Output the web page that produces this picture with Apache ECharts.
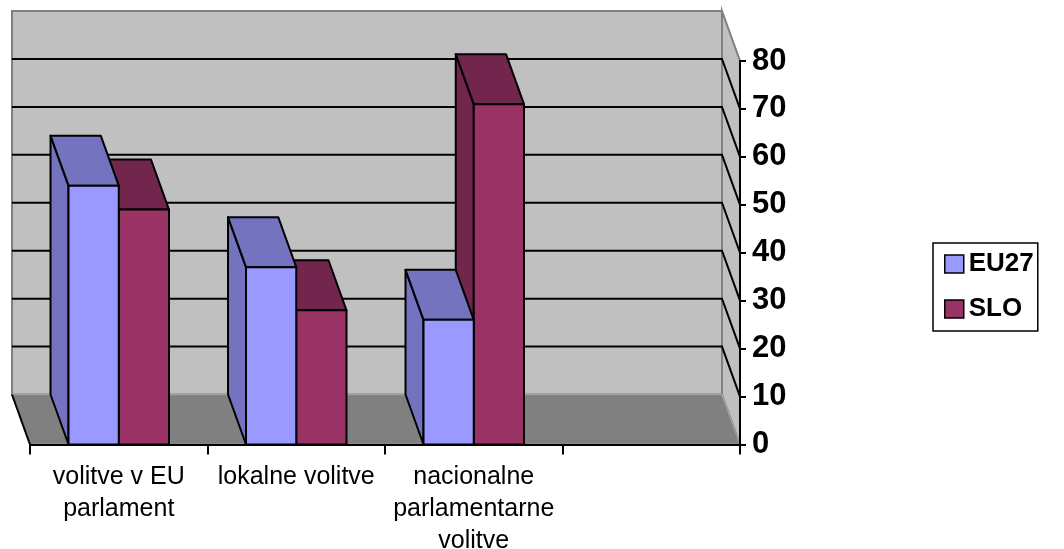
<!DOCTYPE html>
<html>
<head>
<meta charset="utf-8">
<script src="https://cdn.jsdelivr.net/npm/echarts@6/dist/echarts.min.js"></script>
<style>
  html, body { margin: 0; background: #ffffff; }
  #chart { width: 1064px; height: 549px; }
</style>
</head>
<body>
<div id="chart"></div>
<script>
// data
const categories = ['volitve v EU\nparlament', 'lokalne volitve', 'nacionalne\nparlamentarne\nvolitve', ''];
const eu27Values = [54, 37, 26];
const sloValues = [49, 28, 71];
const wallTicks = [10, 20, 30, 40, 50, 60, 70];

// 3d look
const DX = -18;
const DY = -50;
const BAR_RATIO = 0.283;
const FONT = '"Liberation Sans", Arial, sans-serif';

const chart = echarts.init(document.getElementById('chart'));

function drawFrame(params, api) {
  const cs = params.coordSys;
  const y0 = api.coord([0, 0])[1];
  const yTop = api.coord([0, 80])[1];
  const left = cs.x;
  const right = cs.x + cs.width;
  const children = [];
  // back wall
  children.push({
    type: 'rect',
    shape: { x: left + DX, y: yTop + DY, width: right - left, height: y0 - yTop },
    style: { fill: '#c0c0c0', stroke: '#808080', lineWidth: 2 }
  });
  // right wall
  children.push({
    type: 'polygon',
    shape: { points: [[right + DX, yTop + DY], [right, yTop], [right, y0], [right + DX, y0 + DY]] },
    style: { fill: '#c0c0c0', stroke: '#808080', lineWidth: 2 }
  });
  // floor
  children.push({
    type: 'polygon',
    shape: { points: [[left, y0], [right, y0], [right + DX, y0 + DY], [left + DX, y0 + DY]] },
    style: { fill: '#808080', stroke: '#a0a0a0', lineWidth: 1.5 }
  });
  children.push({
    type: 'line',
    shape: { x1: left + DX, y1: y0 + DY, x2: left, y2: y0 },
    style: { stroke: '#000', lineWidth: 2 }
  });
  // grid lines on back and right wall
  wallTicks.forEach(function (v) {
    const y = api.coord([0, v])[1];
    children.push({
      type: 'polyline',
      shape: { points: [[left + DX, y + DY], [right + DX, y + DY], [right, y]] },
      style: { stroke: '#000', lineWidth: 2, fill: null }
    });
  });
  return { type: 'group', children: children };
}

function makeBar(front, dark, shift) {
  return function (params, api) {
    const c = api.coord([api.value(0), api.value(1)]);
    const base = api.coord([api.value(0), 0]);
    const bw = api.size([1, 0])[0] * BAR_RATIO;
    const x0 = c[0] + shift * bw;
    const x1 = x0 + bw;
    const top = c[1];
    const bottom = base[1];
    const line = { stroke: '#000', lineWidth: 2, lineJoin: 'round' };
    return {
      type: 'group',
      children: [
        {
          type: 'polygon',
          shape: { points: [[x0, top], [x0 + DX, top + DY], [x0 + DX, bottom + DY], [x0, bottom]] },
          style: Object.assign({ fill: dark }, line)
        },
        {
          type: 'polygon',
          shape: { points: [[x0, top], [x0 + DX, top + DY], [x1 + DX, top + DY], [x1, top]] },
          style: Object.assign({ fill: dark }, line)
        },
        {
          type: 'rect',
          shape: { x: x0, y: top, width: bw, height: bottom - top },
          style: Object.assign({ fill: front }, line)
        }
      ]
    };
  };
}

const option = {
  animation: false,
  textStyle: { fontFamily: FONT },
  grid: { left: 30, right: 324, top: 61, bottom: 104.5, outerBoundsMode: 'none', containLabel: false },
  legend: {
    data: ['EU27', 'SLO'],
    orient: 'vertical',
    left: 933,
    top: 243,
    padding: [7, 4, 8, 11],
    itemGap: 17,
    itemWidth: 19,
    itemHeight: 18,
    icon: 'rect',
    borderColor: '#000',
    borderWidth: 1.5,
    borderRadius: 0,
    itemStyle: { borderColor: '#000', borderWidth: 1.5 },
    textStyle: { fontSize: 26, fontWeight: 'bold', color: '#000', lineHeight: 28, fontFamily: FONT }
  },
  xAxis: {
    type: 'category',
    data: categories,
    z: 10,
    axisLine: { lineStyle: { color: '#000', width: 2 } },
    axisTick: { show: true, length: 10, lineStyle: { color: '#000', width: 2 } },
    axisLabel: { interval: 0, fontSize: 25, lineHeight: 32, color: '#000', margin: 17, fontFamily: FONT }
  },
  yAxis: {
    type: 'value',
    position: 'right',
    min: 0,
    max: 80,
    interval: 10,
    z: 10,
    axisLine: { show: true, lineStyle: { color: '#000', width: 2 } },
    axisTick: { show: true, length: 6, lineStyle: { color: '#000', width: 2 } },
    axisLabel: { fontSize: 31, fontWeight: 'bold', color: '#000', margin: 12, fontFamily: FONT },
    splitLine: { show: false }
  },
  series: [
    {
      name: 'frame',
      type: 'custom',
      z: 1,
      silent: true,
      renderItem: drawFrame,
      data: [[0, 0]]
    },
    {
      name: 'SLO',
      type: 'custom',
      z: 2,
      itemStyle: { color: '#993366', borderColor: '#000', borderWidth: 1.5 },
      renderItem: makeBar('#993366', '#73264d', 0),
      data: sloValues.map(function (v, i) { return [i, v]; })
    },
    {
      name: 'EU27',
      type: 'custom',
      z: 3,
      itemStyle: { color: '#9999ff', borderColor: '#000', borderWidth: 1.5 },
      renderItem: makeBar('#9999ff', '#7373bf', -1),
      data: eu27Values.map(function (v, i) { return [i, v]; })
    }
  ]
};

chart.setOption(option);
</script>
</body>
</html>
